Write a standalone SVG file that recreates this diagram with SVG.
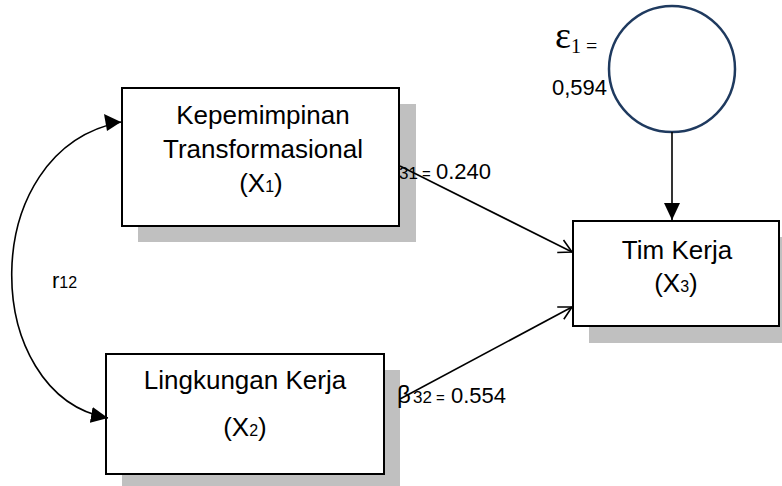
<svg xmlns="http://www.w3.org/2000/svg" width="782" height="486" viewBox="0 0 782 486">
<style>
.shadow{fill:#c0c0c0;stroke:none}
.box{fill:#fff;stroke:#000;stroke-width:2}
.t{font-family:"Liberation Sans",Arial,sans-serif;font-size:26px;fill:#000;text-anchor:middle}
.sub{font-size:16px}
.lbl{font-family:"Liberation Sans",Arial,sans-serif;fill:#000}
.ln{stroke:#000;stroke-width:1.6;fill:none}
</style>
<defs>
<marker id="open" markerWidth="16" markerHeight="16" refX="14" refY="8" orient="auto" markerUnits="userSpaceOnUse">
<path d="M1,1 L14,8 L1,15" fill="none" stroke="#000" stroke-width="1.6"/>
</marker>
<marker id="solid" markerWidth="18" markerHeight="16" refX="17" refY="8" orient="auto" markerUnits="userSpaceOnUse">
<path d="M0,0 L17,8 L0,16 Z" fill="#000"/>
</marker>
</defs>
<rect width="782" height="486" fill="#fff"/>

<g id="x1">
<rect class="shadow" x="138" y="104" width="278" height="138"/>
<rect class="box" x="122" y="88" width="277" height="138"/>
<text class="t" x="263" y="124">Kepemimpinan</text>
<text class="t" x="263" y="158">Transformasional</text>
<text class="t" x="261" y="192">(X<tspan class="sub">1</tspan>)</text>
</g>

<g id="x2">
<rect class="shadow" x="122" y="370" width="278" height="120"/>
<rect class="box" x="106" y="354" width="278" height="120"/>
<text class="t" x="245" y="389">Lingkungan Kerja</text>
<text class="t" x="245" y="436">(X<tspan class="sub">2</tspan>)</text>
</g>

<g id="x3">
<rect class="shadow" x="589" y="237" width="206" height="106"/>
<rect class="box" x="573" y="221" width="206" height="105"/>
<text class="t" x="677" y="259">Tim Kerja</text>
<text class="t" x="676" y="292">(X<tspan class="sub">3</tspan>)</text>
</g>

<g id="e1">
<circle cx="672" cy="69" r="63" fill="#fff" stroke="#1f3a5f" stroke-width="2.5"/>
<text x="555" y="48" font-family="'Liberation Serif','Times New Roman',serif" font-size="38" fill="#000">ε<tspan font-size="20" dy="5">1 =</tspan></text>
<text class="lbl" x="552" y="95" font-size="22">0,594</text>
</g>

<g id="connectors">
<path class="ln" d="M121,122 C-25,150 -20,395 108,418" marker-end="url(#solid)"/>
<path d="M121,122 L104,114 L107,131 Z" fill="#000"/>
<line class="ln" x1="672" y1="132" x2="672" y2="220" marker-end="url(#solid)"/>
<line class="ln" x1="400" y1="166" x2="572" y2="252" marker-end="url(#open)"/>
<line class="ln" x1="400" y1="399" x2="572" y2="307" marker-end="url(#open)"/>
</g>

<g id="labels">
<text class="lbl" x="52" y="288" font-size="22">r<tspan font-size="16">12</tspan></text>
<text class="lbl" y="179"><tspan x="399" font-size="17">31</tspan><tspan x="422" font-size="15">=</tspan><tspan x="436" font-size="22">0.240</tspan></text>
<text class="lbl" y="403"><tspan x="397" font-size="24">β</tspan><tspan x="413" font-size="17">32</tspan><tspan x="436" font-size="15">=</tspan><tspan x="451" font-size="22">0.554</tspan></text>
</g>
</svg>
